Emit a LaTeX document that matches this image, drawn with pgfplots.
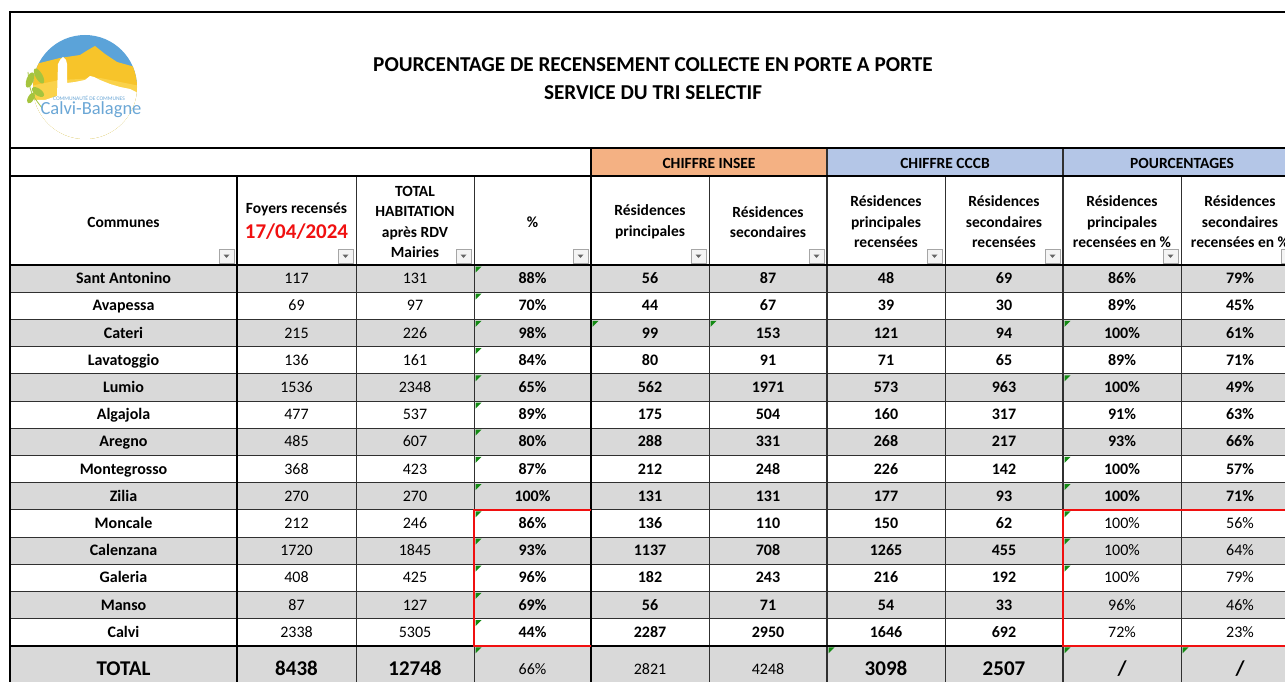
\documentclass[border=0pt]{standalone}
\usepackage{pgfplots}
\pgfplotsset{compat=1.18}
\usepackage{pgfplotstable}
\usepackage{fontspec}
\setmainfont{Carlito}

\definecolor{rowgray}{HTML}{D9D9D9}
\definecolor{insee}{HTML}{F4B183}
\definecolor{cccb}{HTML}{B4C6E7}
\definecolor{xlgreen}{HTML}{138A13}
\definecolor{xlred}{HTML}{F01010}
\definecolor{sky}{HTML}{5BA3D9}
\definecolor{sun}{HTML}{F7C42A}
\definecolor{sunlight}{HTML}{FAD24A}
\definecolor{leaf}{HTML}{A5C43E}
\definecolor{logoblue}{HTML}{6BA7D6}
\definecolor{btnborder}{HTML}{A6A6A6}
\definecolor{btnfill}{HTML}{F4F4F4}
\definecolor{gridc}{HTML}{303030}

\pgfdeclareplotmark{corner}{%
  \pgfpathmoveto{\pgfpoint{0pt}{0pt}}%
  \pgfpathlineto{\pgfpoint{6pt}{0pt}}%
  \pgfpathlineto{\pgfpoint{0pt}{-6pt}}%
  \pgfpathclose\pgfusepathqfill}

\newcommand\fD{\fontsize{16}{19}\selectfont}
\newcommand\fB{\bfseries\fontsize{16}{19}\selectfont}
\newcommand\fH{\bfseries\fontsize{15.5}{20.5}\selectfont}
\newcommand\fT{\bfseries\fontsize{21}{24}\selectfont}
\newcommand\fR{\fontsize{16}{19}\selectfont}

\pgfplotstableread[col sep=comma,row sep=\\]{
y,commune,foy,hab,pct,rp,rs,rpc,rsc,ppc,psc\\
278.6,Sant Antonino,117,131,88,56,87,48,69,86,79\\
305.8,Avapessa,69,97,70,44,67,39,30,89,45\\
333.0,Cateri,215,226,98,99,153,121,94,100,61\\
360.2,Lavatoggio,136,161,84,80,91,71,65,89,71\\
387.4,Lumio,1536,2348,65,562,1971,573,963,100,49\\
414.6,Algajola,477,537,89,175,504,160,317,91,63\\
441.8,Aregno,485,607,80,288,331,268,217,93,66\\
469.0,Montegrosso,368,423,87,212,248,226,142,100,57\\
496.2,Zilia,270,270,100,131,131,177,93,100,71\\
523.4,Moncale,212,246,86,136,110,150,62,100,56\\
550.6,Calenzana,1720,1845,93,1137,708,1265,455,100,64\\
577.8,Galeria,408,425,96,182,243,216,192,100,79\\
605.0,Manso,87,127,69,56,71,54,33,96,46\\
632.2,Calvi,2338,5305,44,2287,2950,1646,692,72,23\\
}\rows

\pgfplotstableread[col sep=comma,row sep=\\]{
y,lab,foy,hab,pct,rp,rs,rpc,rsc,ppc,psc\\
669,TOTAL,8438,12748,66,2821,4248,3098,2507,/,/\\
}\totals

\pgfplotstableread[row sep=\\]{
x y\\
475.5 266.5\\ 475.5 293.7\\ 475.5 320.9\\ 475.5 348.1\\ 475.5 375.3\\
475.5 402.5\\ 475.5 429.7\\ 475.5 456.9\\ 475.5 484.1\\ 475.5 511.3\\
475.5 538.5\\ 475.5 565.7\\ 475.5 592.9\\ 475.5 620.1\\ 475.5 647.3\\
592.5 320.9\\ 710.5 320.9\\
1064.5 320.9\\ 1064.5 375.3\\ 1064.5 456.9\\ 1064.5 484.1\\ 1064.5 511.3\\
1064.5 538.5\\ 1064.5 565.7\\ 1064.5 647.3\\
828.5 647.3\\ 1182.5 647.3\\
}\corners

\pgfplotsset{
  cell/.style={draw=none, nodes near coords={\pgfplotspointmeta},
    point meta=explicit symbolic, nodes near coords align=center,
    every node near coord/.append style={inner sep=0pt, font=#1,
      text depth=0pt, text height=10.3pt}},
  big/.style={every node near coord/.append style={text height=13.5pt}},
}

\begin{document}
\begin{tikzpicture}
\begin{axis}[
  width=1285pt, height=682pt, scale only axis,
  xmin=0, xmax=1285, ymin=0, ymax=682, y dir=reverse,
  enlargelimits=false, hide axis, clip=false,
]
\coordinate (SW) at (axis cs:0,682);
\coordinate (NE) at (axis cs:1285,0);

% ---------- row fills ----------
\pgfplotsinvokeforeach{265,319.4,373.8,428.2,482.6,537,591.4,645.8}{
  \fill[rowgray] (axis cs:10,#1) rectangle (axis cs:1300,#1+27.2);
}
\fill[rowgray] (axis cs:10,645.8) rectangle (axis cs:1300,690);
\fill[insee] (axis cs:591,149) rectangle (axis cs:827,176);
\fill[cccb] (axis cs:827,149) rectangle (axis cs:1063,176);
\fill[cccb] (axis cs:1063,149) rectangle (axis cs:1300,176);

% ---------- logo ----------
\begin{scope}
  \clip (axis cs:85,87) circle[radius=52pt];
  \fill[sky] (axis cs:20,30) rectangle (axis cs:150,160);
  \fill[sun] (axis cs:20,66) -- (axis cs:40,63) -- (axis cs:60,58) -- (axis cs:80,55)
     -- (axis cs:88,50) -- (axis cs:95,46) -- (axis cs:105,54) -- (axis cs:117,62)
     -- (axis cs:135,67) -- (axis cs:150,72)
     -- (axis cs:150,160) -- (axis cs:20,160) -- cycle;
  \fill[sunlight] (axis cs:20,88) -- (axis cs:60,80) -- (axis cs:100,78) -- (axis cs:150,88)
     -- (axis cs:150,160) -- (axis cs:20,160) -- cycle;
  \fill[white] (axis cs:20,160) -- (axis cs:20,100) -- (axis cs:45,100) -- (axis cs:57,96)
     -- (axis cs:58,64) -- (axis cs:60,60) -- (axis cs:63,57) -- (axis cs:66,60)
     -- (axis cs:67,64) -- (axis cs:67,83) -- (axis cs:75,82) -- (axis cs:85,80)
     -- (axis cs:90,76) -- (axis cs:94,77) -- (axis cs:100,80) -- (axis cs:110,84)
     -- (axis cs:120,87) -- (axis cs:130,89) -- (axis cs:140,94) -- (axis cs:150,96)
     -- (axis cs:150,160) -- cycle;
\end{scope}
\draw[leaf, line width=0.8pt] (axis cs:28,72) .. controls (axis cs:30,92) .. (axis cs:42,108);
\fill[leaf] (axis cs:30,80) ellipse[x radius=3.5pt, y radius=8pt, rotate=-20];
\fill[leaf] (axis cs:39,76) ellipse[x radius=3.5pt, y radius=8.5pt, rotate=30];
\fill[leaf] (axis cs:38,92) ellipse[x radius=3.5pt, y radius=7pt, rotate=55];
\fill[leaf] (axis cs:31,98) ellipse[x radius=3pt, y radius=6pt, rotate=-30];
\node[logoblue, font=\fontsize{5.5}{6}\selectfont] at (axis cs:89,98.5) {COMMUNAUTÉ DE COMMUNES};
\node[logoblue, font=\fontsize{18.5}{19}\selectfont] at (axis cs:91,110) {Calvi-Balagne};

% ---------- title ----------
\node[font=\bfseries\fontsize{21.2}{24}\selectfont] at (axis cs:653,65) {POURCENTAGE DE RECENSEMENT COLLECTE EN PORTE A PORTE};
\node[font=\bfseries\fontsize{21.2}{24}\selectfont] at (axis cs:653,93) {SERVICE DU TRI SELECTIF};

% ---------- filter buttons ----------
\pgfplotsinvokeforeach{219,338,456,573,691,809,927,1045,1163,1281}{
  \draw[btnborder, fill=btnfill, line width=0.7pt] (axis cs:#1,263) rectangle ++(15pt,14pt);
  \fill[gray!80!black] (axis cs:#1,263) ++(4.5pt,8.5pt) -- ++(6pt,0pt) -- ++(-3pt,-3.5pt) -- cycle;
}

% ---------- grid lines ----------
\pgfplotsinvokeforeach{292.2,319.4,346.6,373.8,401,428.2,455.4,482.6,509.8,537,564.2,591.4,618.6}{
  \draw[gridc, line width=0.9pt] (axis cs:10,#1) -- (axis cs:1300,#1);
}
\pgfplotsinvokeforeach{356,474,709,945,1181}{
  \draw[gridc, line width=1pt] (axis cs:#1,176) -- (axis cs:#1,690);
}
\pgfplotsinvokeforeach{827,1063}{
  \draw[gridc, line width=1.4pt] (axis cs:#1,149) -- (axis cs:#1,690);
}
\draw[black, line width=2pt] (axis cs:237,176) -- (axis cs:237,690);
\draw[black, line width=2pt] (axis cs:591,149) -- (axis cs:591,690);
\draw[black, line width=2pt] (axis cs:10,12) -- (axis cs:1300,12);
\draw[black, line width=2pt] (axis cs:10,11) -- (axis cs:10,690);
\draw[black, line width=2pt] (axis cs:10,148.5) -- (axis cs:1300,148.5);
\draw[black, line width=1.6pt] (axis cs:10,176) -- (axis cs:1300,176);
\draw[black, line width=2pt] (axis cs:10,265) -- (axis cs:1300,265);
\draw[black, line width=2pt] (axis cs:10,645.8) -- (axis cs:1300,645.8);

% red boxes
\draw[xlred, line width=2pt] (axis cs:591,509.8) -- (axis cs:474,509.8) -- (axis cs:474,645.8) -- (axis cs:591,645.8);
\draw[xlred, line width=2pt] (axis cs:1300,509.8) -- (axis cs:1063,509.8) -- (axis cs:1063,645.8) -- (axis cs:1300,645.8);

% ---------- header texts ----------
\node[font=\fH] at (axis cs:709,163) {CHIFFRE INSEE};
\node[font=\fH] at (axis cs:945,163) {CHIFFRE CCCB};
\node[font=\fH] at (axis cs:1182,163) {POURCENTAGES};
\node[font=\fH] at (axis cs:123.5,222) {Communes};
\node[font=\fH] at (axis cs:296.5,209) {Foyers recensés};
\node[font=\bfseries\fontsize{21}{24}\selectfont, text=xlred] at (axis cs:296.5,232) {17/04/2024};
\node[font=\fH, align=center] at (axis cs:415,222) {TOTAL\\HABITATION\\après RDV\\Mairies};
\node[font=\fH] at (axis cs:532.5,222) {\%};
\node[font=\fH, align=center] at (axis cs:650,222) {Résidences\\principales};
\node[font=\fH, align=center] at (axis cs:768,222) {Résidences\\secondaires};
\node[font=\fH, align=center] at (axis cs:886,222) {Résidences\\principales\\recensées};
\node[font=\fH, align=center] at (axis cs:1004,222) {Résidences\\secondaires\\recensées};
\node[font=\fH, align=center] at (axis cs:1122,222) {Résidences\\principales\\recensées en \%};
\node[font=\fH, align=center] at (axis cs:1240,222) {Résidences\\secondaires\\recensées en \%};

% ---------- green corner indicators ----------
\addplot[only marks, mark=corner, color=xlgreen] table[x=x, y=y] {\corners};

% ---------- data ----------
\addplot[cell=\fB] table[x expr=123.5, y=y, meta=commune] {\rows};
\addplot[cell=\fD] table[x expr=296.5, y=y, meta=foy] {\rows};
\addplot[cell=\fD] table[x expr=415, y=y, meta=hab] {\rows};
\addplot[cell=\fB, nodes near coords={\pgfplotspointmeta\%}] table[x expr=532.5, y=y, meta=pct] {\rows};
\addplot[cell=\fB] table[x expr=650, y=y, meta=rp] {\rows};
\addplot[cell=\fB] table[x expr=768, y=y, meta=rs] {\rows};
\addplot[cell=\fB] table[x expr=886, y=y, meta=rpc] {\rows};
\addplot[cell=\fB] table[x expr=1004, y=y, meta=rsc] {\rows};
\addplot[cell=\fB, skip coords between index={9}{14}, nodes near coords={\pgfplotspointmeta\%}] table[x expr=1122, y=y, meta=ppc] {\rows};
\addplot[cell=\fB, skip coords between index={9}{14}, nodes near coords={\pgfplotspointmeta\%}] table[x expr=1240, y=y, meta=psc] {\rows};
\addplot[cell=\fR, skip coords between index={0}{9}, nodes near coords={\pgfplotspointmeta\%}] table[x expr=1122, y=y, meta=ppc] {\rows};
\addplot[cell=\fR, skip coords between index={0}{9}, nodes near coords={\pgfplotspointmeta\%}] table[x expr=1240, y=y, meta=psc] {\rows};

% ---------- totals ----------
\addplot[cell=\fT, big] table[x expr=123.5, y=y, meta=lab] {\totals};
\addplot[cell=\fT, big] table[x expr=296.5, y=y, meta=foy] {\totals};
\addplot[cell=\fT, big] table[x expr=415, y=y, meta=hab] {\totals};
\addplot[cell=\fR, nodes near coords={\pgfplotspointmeta\%}] table[x expr=532.5, y=y, meta=pct] {\totals};
\addplot[cell=\fR] table[x expr=650, y=y, meta=rp] {\totals};
\addplot[cell=\fR] table[x expr=768, y=y, meta=rs] {\totals};
\addplot[cell=\fT, big] table[x expr=886, y=y, meta=rpc] {\totals};
\addplot[cell=\fT, big] table[x expr=1004, y=y, meta=rsc] {\totals};
\addplot[cell=\fT, big] table[x expr=1122, y=y, meta=ppc] {\totals};
\addplot[cell=\fT, big] table[x expr=1240, y=y, meta=psc] {\totals};
\end{axis}
\pgfresetboundingbox
\path (SW) rectangle (NE);
\end{tikzpicture}
\end{document}
